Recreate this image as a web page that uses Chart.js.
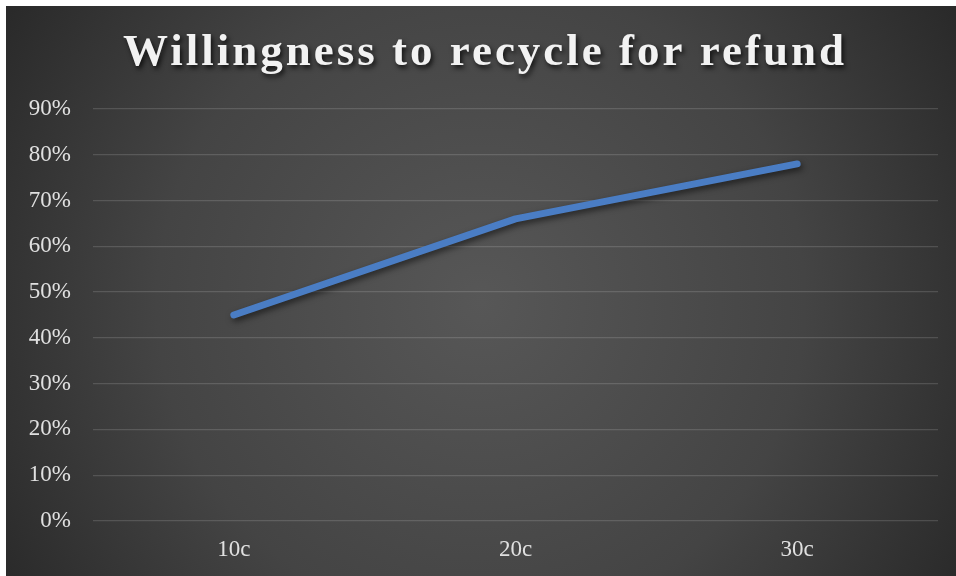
<!DOCTYPE html>
<html>
<head>
<meta charset="utf-8">
<script src="https://cdn.jsdelivr.net/npm/chart.js@4/dist/chart.umd.min.js"></script>
<style>
  html, body { margin: 0; padding: 0; background: #ffffff; }
  #wrap { position: absolute; left: 6px; top: 6px; width: 950px; height: 570px; }
</style>
</head>
<body>
<div id="wrap"><canvas id="grafico"></canvas></div>
<script>
// Dados do gráfico
const categorias = ['10c', '20c', '30c'];
const disposicao = [45, 66, 78];
const eixoY = { min: 0, max: 90, passo: 10 };
const titulo = 'Willingness to recycle for refund';

// Fundo escuro com gradiente radial
const fundoRadial = {
    id: 'fundoRadial',
    beforeDraw(chart) {
        const { ctx, width, height } = chart;
        const g = ctx.createRadialGradient(width * 0.5, height * 0.52, 0, width * 0.5, height * 0.52, width * 0.62);
        g.addColorStop(0, '#575757');
        g.addColorStop(0.55, '#444444');
        g.addColorStop(1, '#262626');
        ctx.save();
        ctx.fillStyle = g;
        ctx.fillRect(0, 0, width, height);
        ctx.restore();
    }
};

// Espaçamento e sombra no título (centrado no canvas inteiro)
const tituloSombra = {
    id: 'tituloSombra',
    beforeDraw(chart) {
        const t = chart.titleBlock;
        if (!t || t._sombra) return;
        const original = t.draw.bind(t);
        t.draw = function () {
            const ctx = chart.ctx;
            ctx.save();
            ctx.translate((chart.width - (t.left + t.right)) / 2 + 4, 0);
            ctx.letterSpacing = '3px';
            ctx.shadowColor = 'rgba(0,0,0,0.75)';
            ctx.shadowBlur = 5;
            ctx.shadowOffsetX = 2;
            ctx.shadowOffsetY = 3;
            original();
            ctx.restore();
        };
        t._sombra = true;
    }
};

// Sombra da linha
const linhaSombra = {
    id: 'linhaSombra',
    beforeDatasetDraw(chart) {
        const ctx = chart.ctx;
        ctx.save();
        ctx.shadowColor = 'rgba(0,0,0,0.55)';
        ctx.shadowBlur = 6;
        ctx.shadowOffsetX = 2;
        ctx.shadowOffsetY = 3;
    },
    afterDatasetDraw(chart) {
        chart.ctx.restore();
    }
};

const ctx = document.getElementById('grafico').getContext('2d');
const grafico = new Chart(ctx, {
    type: 'line',
    data: {
        labels: categorias,
        datasets: [{
            label: 'Willingness',
            data: disposicao,
            borderColor: '#4a7dc4',
            borderWidth: 7,
            borderCapStyle: 'round',
            borderJoinStyle: 'round',
            pointRadius: 0,
            pointHoverRadius: 0,
            tension: 0,
            fill: false
        }]
    },
    options: {
        responsive: true,
        maintainAspectRatio: false,
        animation: false,
        layout: { padding: { left: 0, right: 18, top: 0, bottom: 0 } },
        plugins: {
            legend: { display: false },
            tooltip: { enabled: false },
            title: {
                display: true,
                text: titulo,
                color: '#f2f2f2',
                font: { family: '"Liberation Serif", "DejaVu Serif", serif', size: 45, weight: 'bold' },
                padding: { top: 20, bottom: 29 }
            }
        },
        scales: {
            x: {
                offset: true,
                grid: { display: false, drawTicks: false },
                border: { display: false },
                ticks: {
                    color: '#e0e0e0',
                    padding: 15,
                    font: { family: '"Liberation Serif", "DejaVu Serif", serif', size: 23 }
                },
                afterFit(scale) { scale.height = 55; }
            },
            y: {
                min: eixoY.min,
                max: eixoY.max,
                grid: { color: 'rgba(255,255,255,0.14)', lineWidth: 1.3, drawTicks: false },
                border: { display: false },
                ticks: {
                    stepSize: eixoY.passo,
                    color: '#e0e0e0',
                    padding: 22,
                    font: { family: '"Liberation Serif", "DejaVu Serif", serif', size: 23 },
                    callback: v => v + '%'
                },
                afterFit(scale) { scale.width = 87; }
            }
        }
    },
    plugins: [fundoRadial, tituloSombra, linhaSombra]
});
</script>
</body>
</html>
